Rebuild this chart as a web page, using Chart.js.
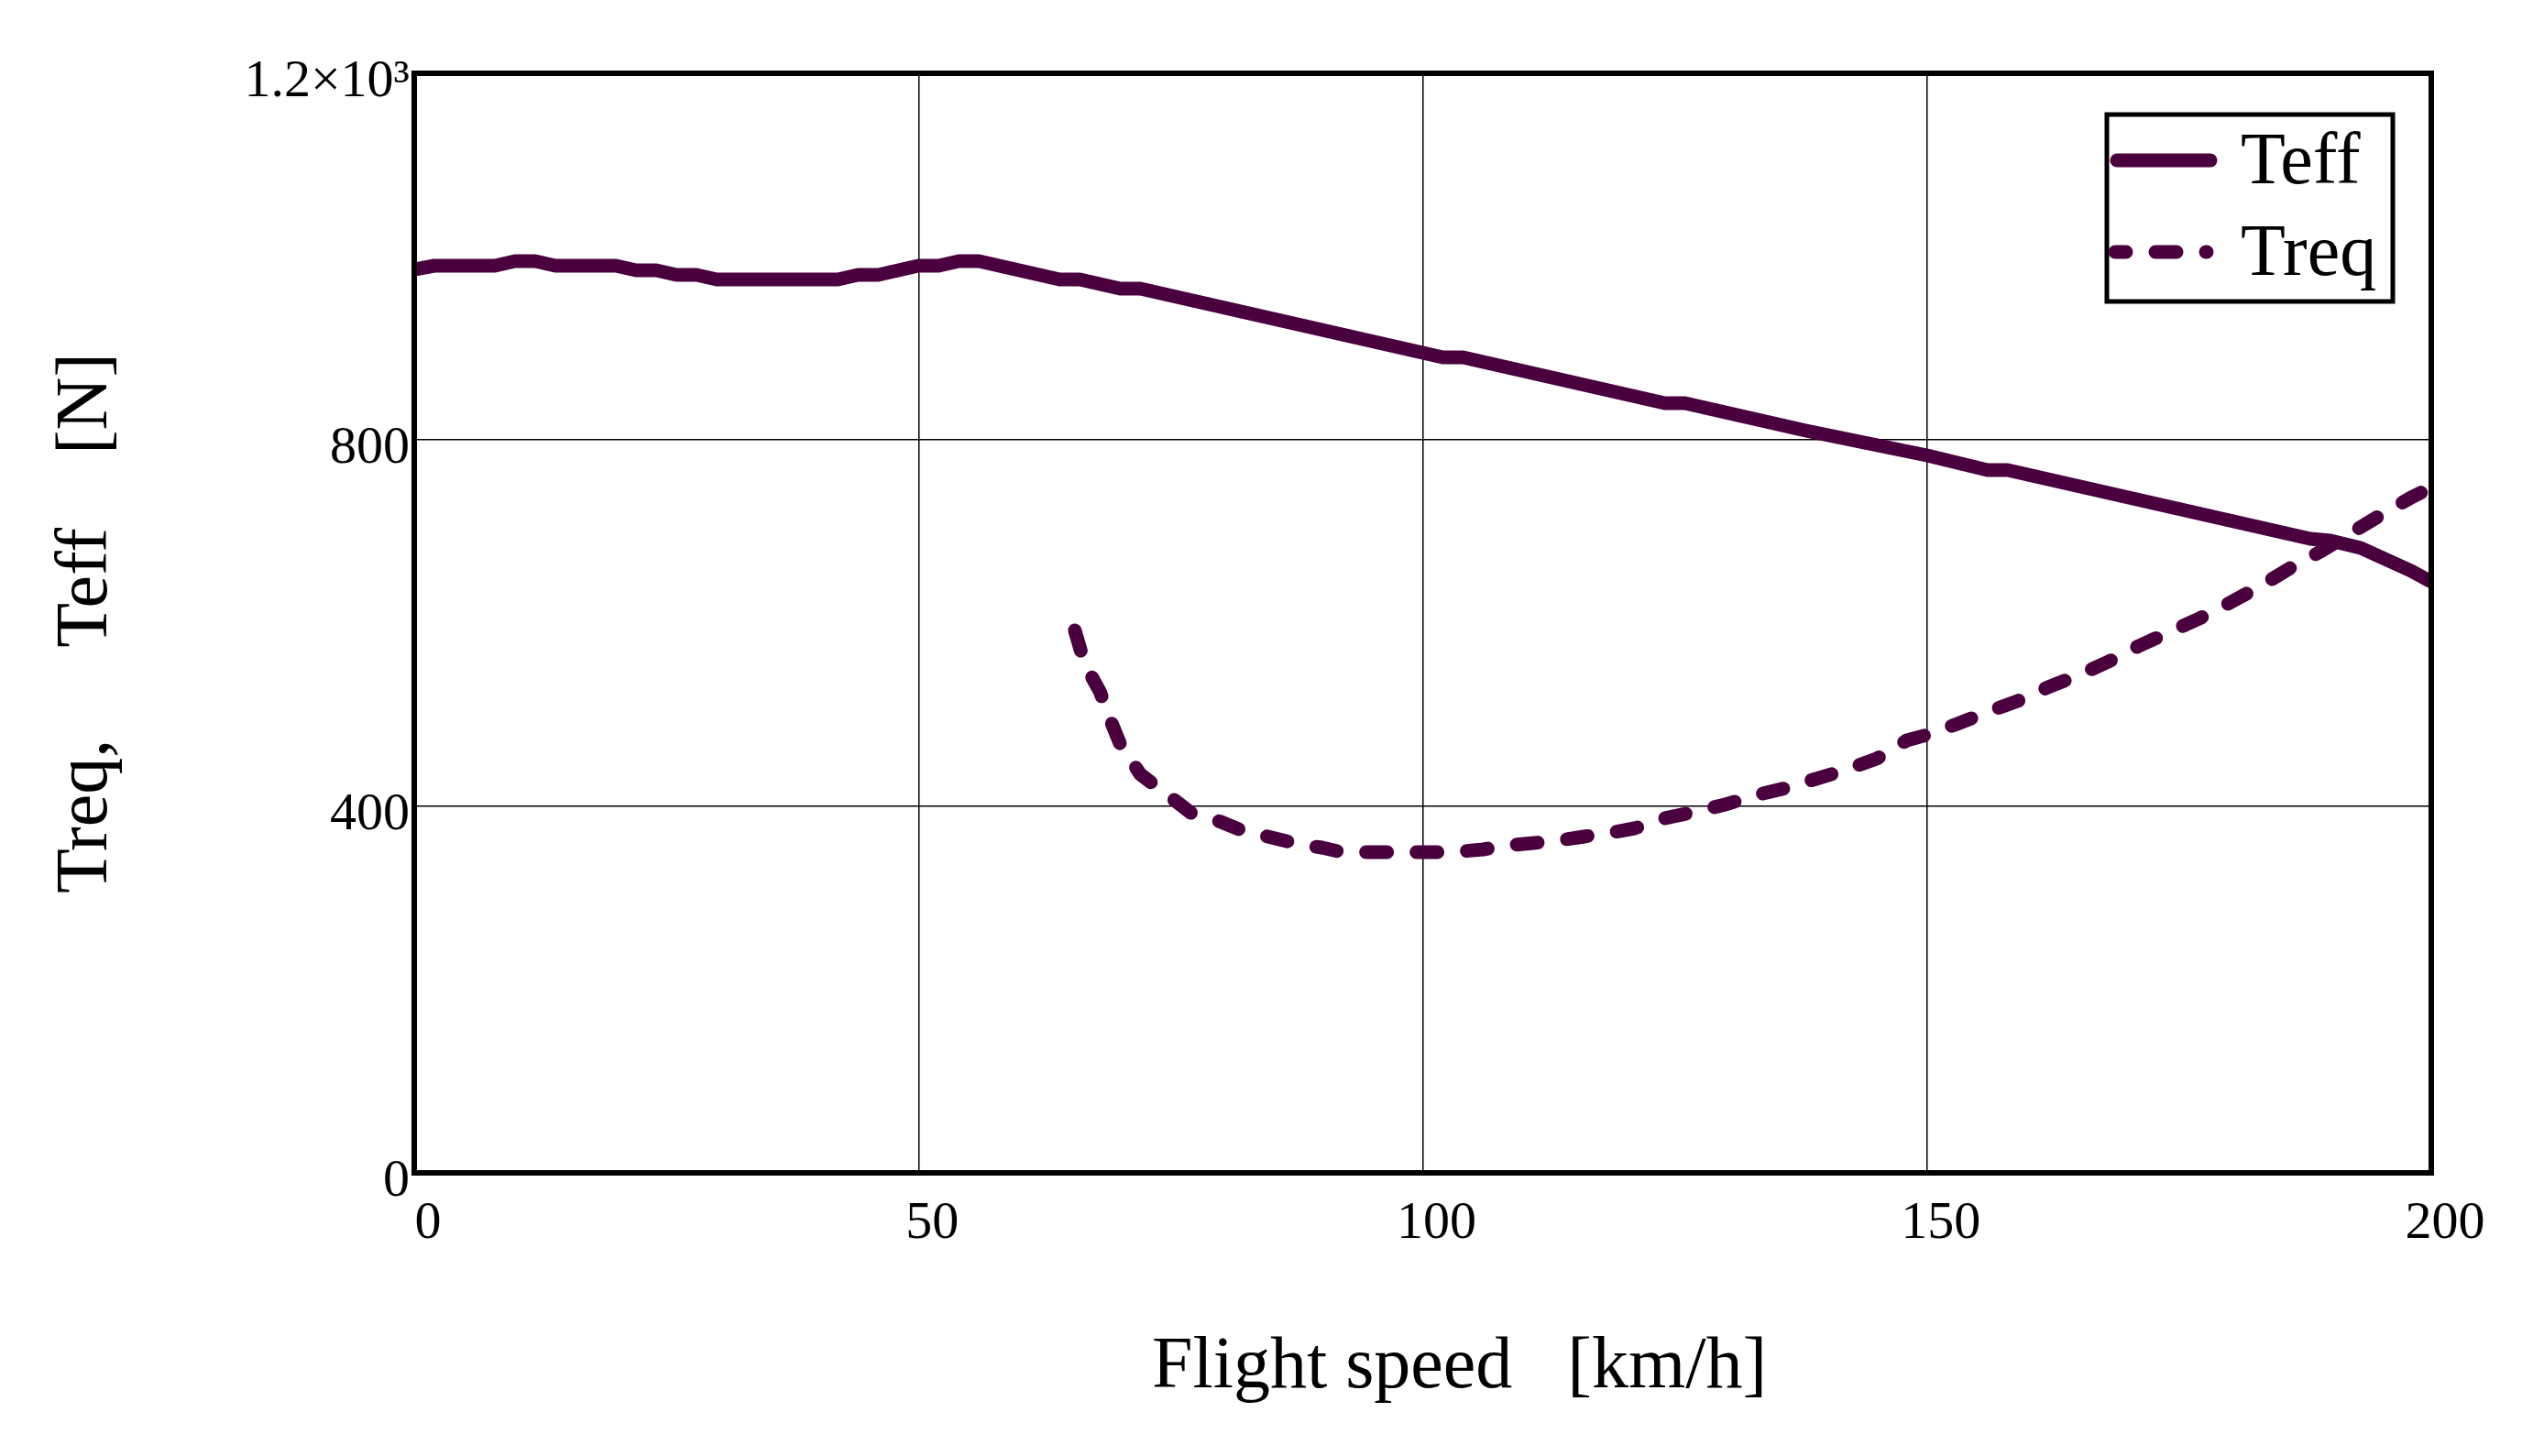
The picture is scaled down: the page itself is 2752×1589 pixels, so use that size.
<!DOCTYPE html>
<html>
<head>
<meta charset="utf-8">
<script src="https://cdn.jsdelivr.net/npm/chart.js@4.4.0/dist/chart.umd.min.js"></script>
<style>
  html, body { margin: 0; padding: 0; background: #fff; }
  #chart { display: block; }
</style>
</head>
<body>
<canvas id="chart" width="2752" height="1589"></canvas>
<script>
// Flight speed [km/h] and thrust [N]
const teffSpeed = [0, 2, 8, 10, 12, 14, 20, 22, 24, 26, 28, 30, 42, 44, 46, 50, 52, 54, 56, 60,
                   64, 66, 70, 72, 80, 90, 100, 102, 104, 110, 124, 126, 138, 150, 156, 158,
                   170, 180, 188, 190, 193, 196, 198, 200];
const teffThrust = [986, 990, 990, 995, 995, 990, 990, 985, 985, 980, 980, 975, 975, 980, 980, 990, 990, 995, 995, 985,
                    975, 975, 965, 965, 945, 920, 895, 890, 890, 875, 840, 840, 810, 783, 767, 767,
                    737, 712, 692, 690, 682, 667, 657, 645];

const treqSpeed = [65.5, 66.5, 68, 69, 70, 72, 75, 77, 80, 82, 85, 88, 90, 92, 96, 100, 103, 106, 108,
                   111, 113, 116, 119, 121, 124, 127, 130, 133, 136, 139, 142, 145, 148, 150, 153,
                   156, 159, 162, 165, 168, 171, 174, 177, 180, 183, 186, 189, 192, 195, 198, 200];
const treqThrust = [592, 555, 525, 495, 468, 435, 410, 393, 383, 374, 366, 358, 355, 350, 350, 350, 350, 353, 357,
                    360, 362, 367, 372, 376, 387, 394, 402, 412, 420, 430, 440, 452, 472, 478, 490,
                    503, 515, 530, 543, 558, 575, 590, 605, 622, 640, 660, 678, 698, 718, 737, 748];

const seriesNames = ['Teff', 'Treq'];
const xTicks = [0, 50, 100, 150, 200];
const yTicks = [0, 400, 800, 1200];
const yTickText = ['0', '400', '800', '1.2×10³'];

const lineColor = 'rgb(74,0,62)';
const serif = "'Liberation Serif', 'Times New Roman', serif";

// frame around the plot area, drawn over the curves like the original
const framePlugin = {
  id: 'frame',
  afterDatasetsDraw(chart) {
    const { ctx, chartArea: a } = chart;
    ctx.save();
    ctx.strokeStyle = '#000';
    ctx.lineWidth = 6;
    ctx.lineJoin = 'miter';
    ctx.strokeRect(a.left, a.top, a.right - a.left, a.bottom - a.top);
    ctx.restore();
  }
};

// boxed legend in the upper right corner
const boxLegend = {
  id: 'boxLegend',
  afterDraw(chart) {
    const ctx = chart.ctx;
    ctx.save();
    ctx.strokeStyle = '#000';
    ctx.lineWidth = 5;
    ctx.strokeRect(2299, 125, 312, 204);

    const rows = [175, 275];
    chart.data.datasets.forEach((ds, i) => {
      const y = rows[i];
      ctx.strokeStyle = ds.borderColor;
      ctx.lineWidth = ds.borderWidth;
      if (ds.borderDash && ds.borderDash.length) {
        ctx.setLineDash(ds.borderDash);
        ctx.lineDashOffset = 11;
        ctx.lineCap = 'round';
        ctx.beginPath();
        ctx.moveTo(2308, y);
        ctx.lineTo(2408, y);
        ctx.stroke();
      } else {
        ctx.setLineDash([]);
        ctx.lineCap = 'round';
        ctx.beginPath();
        ctx.moveTo(2310, y);
        ctx.lineTo(2412, y);
        ctx.stroke();
      }
      ctx.setLineDash([]);
      ctx.fillStyle = '#000';
      ctx.font = '80px ' + serif;
      ctx.textBaseline = 'alphabetic';
      ctx.textAlign = 'left';
      ctx.fillText(ds.label, 2445, y + 25);
    });
    ctx.restore();
  }
};

new Chart(document.getElementById('chart'), {
  type: 'line',
  data: {
    datasets: [
      {
        label: seriesNames[0],
        data: teffSpeed.map((v, i) => ({ x: v, y: teffThrust[i] })),
        borderColor: lineColor,
        borderWidth: 15,
        borderJoinStyle: 'round',
        pointRadius: 0,
        tension: 0,
        clip: 0
      },
      {
        label: seriesNames[1],
        data: treqSpeed.map((v, i) => ({ x: v, y: treqThrust[i] })),
        borderColor: lineColor,
        borderWidth: 15,
        borderDash: [23, 32],
        borderCapStyle: 'round',
        borderJoinStyle: 'round',
        pointRadius: 0,
        tension: 0,
        clip: 0
      }
    ]
  },
  options: {
    responsive: false,
    animation: false,
    devicePixelRatio: 1,
    layout: { padding: { top: 80, right: 99, left: 0, bottom: 0 } },
    plugins: {
      legend: { display: false },
      tooltip: { enabled: false }
    },
    scales: {
      x: {
        type: 'linear',
        min: 0,
        max: 200,
        afterFit(scale) { scale.height = 309; },
        afterBuildTicks(scale) { scale.ticks = xTicks.map(v => ({ value: v })); },
        grid: { color: '#000', lineWidth: 1.5, drawTicks: false },
        border: { display: false },
        ticks: {
          color: '#000',
          font: { family: serif, size: 58 },
          padding: 21,
          labelOffset: 15,
          maxRotation: 0,
          autoSkip: false
        },
        title: {
          display: true,
          text: '    Flight speed   [km/h]',
          color: '#000',
          font: { family: serif, size: 80 },
          padding: { top: 0, bottom: 48 }
        }
      },
      y: {
        type: 'linear',
        min: 0,
        max: 1200,
        afterFit(scale) { scale.width = 452; },
        afterBuildTicks(scale) { scale.ticks = yTicks.map(v => ({ value: v })); },
        grid: { color: '#000', lineWidth: 1.5, drawTicks: false },
        border: { display: false },
        ticks: {
          color: '#000',
          font: { family: serif, size: 58 },
          padding: 5,
          labelOffset: 10,
          callback: (v) => yTickText[yTicks.indexOf(v)]
        },
        title: {
          display: true,
          text: 'Treq,     Teff    [N]',
          color: '#000',
          font: { family: serif, size: 80 },
          padding: { top: 47, bottom: 0 }
        }
      }
    }
  },
  plugins: [framePlugin, boxLegend]
});
</script>
</body>
</html>
